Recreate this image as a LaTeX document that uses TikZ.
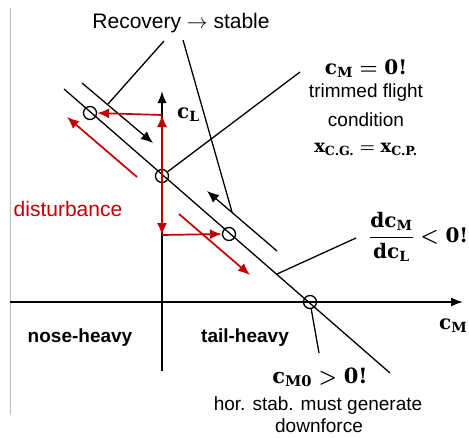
\documentclass[tikz,border=0pt]{standalone}
\usepackage{fontspec}
\usepackage{amsmath}
\newfontfamily\arial{Liberation Sans}
\newfontfamily\dvb{DejaVu Serif}[BoldFont={DejaVu Serif Bold}]
\newcommand{\bv}[1]{\text{\dvb\bfseries #1}}
\usetikzlibrary{arrows.meta}
\definecolor{dred}{HTML}{C00000}
\begin{document}
\begin{tikzpicture}[x=1pt,y=-1pt,
  ln/.style={line width=1.3pt},
  axarr/.style={line width=1.6pt,-{Latex[length=12pt,width=9pt]}},
  redarr/.style={dred,line width=1.7pt,-{Latex[length=12pt,width=10pt]}},
  redarrtwo/.style={dred,line width=1.7pt,{Latex[length=12pt,width=10pt]}-{Latex[length=12pt,width=10pt]}},
  blkarr/.style={line width=1.3pt,-{Latex[length=12pt,width=10pt]}},
  ptc/.style={circle,draw,line width=1.3pt,minimum size=13pt,inner sep=0pt},
  lbl/.style={font=\arial\fontsize{19}{23}\selectfont,align=center,inner sep=0pt},
  bigl/.style={font=\arial\fontsize{21}{25}\selectfont,inner sep=0pt},
  mth/.style={font=\fontsize{20}{24}\selectfont\boldmath,inner sep=0pt},
]
\useasboundingbox (0,0) rectangle (469,437);
% frame edge
\draw[black!25,line width=0.8pt] (10,8) -- (10,415);
% axes
\coordinate (xl) at (10,302);
\coordinate (xr) at (463,302);
\coordinate (yb) at (162,371);
\coordinate (yt) at (162,91);
\draw[axarr] (xl) -- (xr);
\draw[axarr] (yb) -- (yt);
% main stability line
\coordinate (m1) at (64,89);
\coordinate (m2) at (390,373);
\draw[ln] (m1) -- (m2);
% points
\node[ptc] (A) at (90,113) {};
\node[ptc] (O) at (162,176) {};
\node[ptc] (B) at (229,234) {};
\node[ptc] (Z) at (310,302) {};
% recovery arrows (black, parallel above)
\coordinate (u1) at (82,83);
\coordinate (u1t) at (153,143);
\coordinate (u2) at (277,251);
\coordinate (u2t) at (207,191);
\draw[blkarr] (u1) -- (u1t);
\draw[blkarr] (u2) -- (u2t);
% disturbance arrows (red)
\coordinate (up) at (162,115);
\coordinate (dn) at (162,235);
\draw[redarrtwo] (up) -- (dn);
\draw[redarr] (up) -- (A.east);
\draw[redarr] (dn) -- (B.west);
\coordinate (r1) at (137,177);
\coordinate (r1t) at (67,117);
\coordinate (r2) at (179,214);
\coordinate (r2t) at (250,275);
\draw[redarr] (r1) -- (r1t);
\draw[redarr] (r2) -- (r2t);
% labels
\node[bigl,anchor=base] (rec) at (181,28) {Recovery \(\rightarrow\) stable};
\coordinate (rl1) at (164,41);
\coordinate (rl1e) at (108,104);
\coordinate (rl2) at (183,40);
\coordinate (rl2e) at (232,212);
\draw[ln] (rl1) -- (rl1e);
\draw[ln] (rl2) -- (rl2e);
\node[bigl,text=dred] (dist) at (68,209) {disturbance};
\node[mth,anchor=base west] (cl) at (177,118) {$\bv{c}_{\bv{L}}$};
\node[mth,anchor=base west] (cm) at (439,329) {$\bv{c}_{\bv{M}}$};
% top right block
\node[mth,anchor=base] (t1) at (366,74) {$\bv{c}_{\bv{M}}=\bv{0!}$};
\node[lbl,anchor=base] (t2) at (366,97) {trimmed flight};
\node[lbl,anchor=base] (t3) at (366,126) {condition};
\node[mth,anchor=base,font=\fontsize{18}{22}\selectfont\boldmath] (t4) at (366,152) {$\bv{x}_{\bv{C.G.}}=\bv{x}_{\bv{C.P.}}$};
\coordinate (tl) at (300,72);
\draw[ln] (O) -- (tl);
% slope label
\node[mth,anchor=west] (sl) at (369,237) {$\dfrac{\bv{dc}_{\bv{M}}}{\bv{dc}_{\bv{L}}}<\bv{0!}$};
\coordinate (sl1) at (356,238);
\coordinate (sl2) at (277,274);
\draw[ln] (sl1) -- (sl2);
% cm0 label
\node[mth,anchor=base,font=\fontsize{21}{25}\selectfont\boldmath] (c0) at (320,383) {$\bv{c}_{\bv{M0}}>\bv{0!}$};
\node[lbl,anchor=base] (h1) at (318,410) {hor. stab. must generate};
\node[lbl,anchor=base] (h2) at (319,432) {downforce};
\coordinate (zl) at (319,353);
\draw[ln] (Z) -- (zl);
% quadrant labels
\node[lbl,anchor=base,font=\arial\bfseries\fontsize{19}{23}\selectfont] (nh) at (80,342) {nose-heavy};
\node[lbl,anchor=base,font=\arial\bfseries\fontsize{19}{23}\selectfont] (th) at (245,342) {tail-heavy};
\end{tikzpicture}
\end{document}
